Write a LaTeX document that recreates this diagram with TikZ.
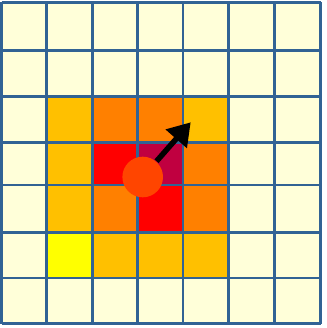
\documentclass[tikz,border=0pt]{standalone}
\usepackage{tikz}
\usetikzlibrary{arrows.meta}

\definecolor{cream}{RGB}{255,255,217}
\definecolor{amber}{RGB}{255,192,0}
\definecolor{deeporange}{RGB}{255,128,0}
\definecolor{hotred}{RGB}{255,0,0}
\definecolor{crimson}{RGB}{192,0,64}
\definecolor{brightyellow}{RGB}{255,255,0}
\definecolor{agentred}{RGB}{255,69,0}
\definecolor{gridblue}{RGB}{49,99,148}

% positions of the grid lines (pixels, y downwards)
\def\colx{{1.7,46.7,92.3,137.7,183,228.7,274.7,320.7}}
\def\rowy{{2.5,50.5,96.5,142.3,185,232.5,278.2,323.5}}

\begin{document}
\begin{tikzpicture}[
  x=0.01cm, y=-0.01cm,
  gridline/.style={draw=gridblue, line width=0.7pt},
  agent/.style={circle, fill=agentred, minimum size=0.406cm, inner sep=0pt},
  heading/.style={-{Triangle[width=0.27cm, length=0.22cm]}, line width=0.055cm, black}
]
\useasboundingbox (0,0) rectangle (326,328);
% background cells
\fill[cream] (1.7,2.5) rectangle (320.7,323.5);
% coloured cells: column/row/colour
\foreach \c/\r/\col in {1/2/amber, 2/2/deeporange, 3/2/deeporange, 4/2/amber,
                        1/3/amber, 2/3/hotred, 3/3/crimson, 4/3/deeporange,
                        1/4/amber, 2/4/deeporange, 3/4/hotred, 4/4/deeporange,
                        1/5/brightyellow, 2/5/amber, 3/5/amber, 4/5/amber} {
  \pgfmathsetmacro\xa{\colx[\c]}
  \pgfmathsetmacro\xb{\colx[\c+1]}
  \pgfmathsetmacro\ya{\rowy[\r]}
  \pgfmathsetmacro\yb{\rowy[\r+1]}
  \fill[\col] (\xa,\ya) rectangle (\xb,\yb);
}
% grid
\foreach \i in {0,...,7} {
  \pgfmathsetmacro\xa{\colx[\i]}
  \pgfmathsetmacro\ya{\rowy[\i]}
  \draw[gridline] (\xa,2.5) -- (\xa,323.5);
  \draw[gridline] (1.7,\ya) -- (320.7,\ya);
}
\node[agent] (agent) at (142.7,177) {};
\coordinate (tip) at (190.7,122.3);
\draw[heading] (agent) -- (tip);
\end{tikzpicture}
\end{document}
